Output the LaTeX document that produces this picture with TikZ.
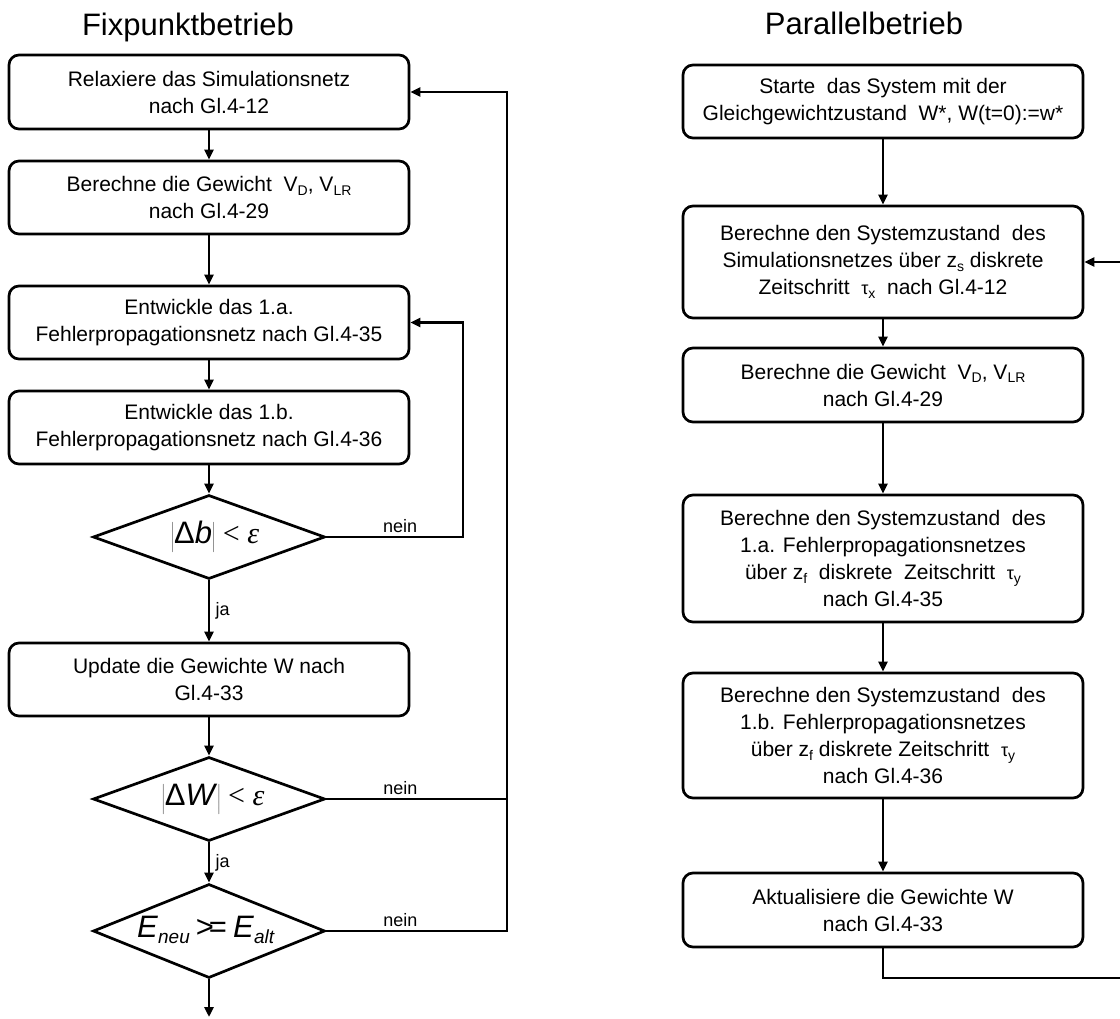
\documentclass[tikz,border=0pt]{standalone}
\usepackage{fontspec}
\setmainfont{Liberation Sans}
\newfontfamily\serifgr{Liberation Serif}
\usetikzlibrary{shapes.geometric,arrows.meta}
\newcommand\sbs[1]{\raisebox{-0.35ex}{\fontsize{14}{14}\selectfont #1}}
\newcommand\sbsbig[1]{\raisebox{-0.4ex}{\fontsize{19}{19}\selectfont #1}}
\newcommand\tauchar{{\fontsize{18}{18}\selectfont τ}}
\newcommand\ltheps{{\serifgr\fontsize{30}{30}\selectfont\ <\ \itshape ε}}
\begin{document}
\begin{tikzpicture}[x=1pt,y=-1pt, line width=2.7pt,
  >={Triangle[length=10pt,width=9pt]},
  box/.style={draw, rounded corners=10pt, minimum width=400pt, align=center, inner sep=0pt, font=\fontsize{21}{27}\selectfont},
  dia/.style={draw, diamond, minimum width=232pt, inner sep=0pt},
  dtext/.style={inner sep=0pt},
  lbl/.style={font=\fontsize{18}{18}\selectfont},
  ttl/.style={font=\fontsize{31}{31}\selectfont}]
\useasboundingbox (0,0) rectangle (1120,1019);

% titles
\node[ttl, anchor=base] (t1) at (188,36) {Fixpunktbetrieb};
\node[ttl, anchor=base] (t2) at (864,35) {Parallelbetrieb};

% left column
\node[box, minimum height=74pt] (b1) at (209,92) {Relaxiere das Simulationsnetz\\nach Gl.4-12};
\node[box, minimum height=73pt] (b2) at (209,197.5) {Berechne die Gewicht \ V\sbs{D}, V\sbs{LR}\\nach Gl.4-29};
\node[box, minimum height=73pt] (b3) at (209,322.5) {Entwickle das 1.a.\\Fehlerpropagationsnetz nach Gl.4-35};
\node[box, minimum height=73pt] (b4) at (209,427.5) {Entwickle das 1.b.\\Fehlerpropagationsnetz nach Gl.4-36};
\node[dia, minimum height=84pt] (d1) at (209,537) {};
\node[dtext] (d1t) at (215,537) {\fontsize{31}{31}\selectfont $\left|\hbox{Δ\textit{b}}\vphantom{Ap}\right|$\ltheps};
\node[box, minimum height=73pt] (b5) at (209,679.5) {Update die Gewichte W nach\\Gl.4-33};
\node[dia, minimum height=84pt] (d2) at (209,799) {};
\node[dtext] (d2t) at (213,799) {\fontsize{31}{31}\selectfont $\left|\hbox{Δ\textit{W}}\vphantom{Ap}\right|$\ltheps};
\node[dia, minimum height=94pt] (d3) at (209,931) {};
\node[dtext] (d3t) at (206,930) {\fontsize{31}{31}\selectfont\textit{E}\sbsbig{\textit{neu}}\kern6pt>\kern-5pt=\kern6pt\textit{E}\sbsbig{\textit{alt}}};
\coordinate (endl) at (209,1017);
\coordinate (c1) at (463,537);
\coordinate (c2) at (507,799);
\coordinate (c3) at (507,931);
\coordinate (c4) at (507,92);

\draw[->] (b1) -- (b2);
\draw[->] (b2) -- (b3);
\draw[->] (b3) -- (b4);
\draw[->] (b4) -- (d1);
\draw[->] (d1) -- node[lbl, right=2pt] {ja} (b5);
\draw[->] (b5) -- (d2);
\draw[->] (d2) -- node[lbl, right=2pt] {ja} (d3);
\draw[->] (d3) -- (endl);
\draw[->] (d1.east) -- node[lbl, above, pos=0.54] {nein} (c1) |- (b3.east);
\draw (d2.east) -- node[lbl, above, pos=0.41] {nein} (c2);
\draw[->] (d3.east) -- node[lbl, above, pos=0.41] {nein} (c3) -- (c4) -- (b1.east);

% right column
\node[box, minimum height=73pt] (r1) at (883,101.5) {Starte \ das System mit der\\Gleichgewichtzustand \ W*, W(t=0):=w*};
\node[box, minimum height=112pt] (r2) at (883,262) {Berechne den Systemzustand \ des\\Simulationsnetzes über z\sbs{s} diskrete\\Zeitschritt \ \tauchar\sbs{x} \ nach Gl.4-12};
\node[box, minimum height=74pt] (r3) at (883,385) {Berechne die Gewicht \ V\sbs{D}, V\sbs{LR}\\nach Gl.4-29};
\node[box, minimum height=127pt] (r4) at (883,558.5) {Berechne den Systemzustand \ des\\1.a. Fehlerpropagationsnetzes\\über z\sbs{f} \ diskrete \ Zeitschritt \ \tauchar\sbs{y}\\nach Gl.4-35};
\node[box, minimum height=125pt] (r5) at (883,735.5) {Berechne den Systemzustand \ des\\1.b. Fehlerpropagationsnetzes\\über z\sbs{f} diskrete Zeitschritt \ \tauchar\sbs{y}\\nach Gl.4-36};
\node[box, minimum height=74pt] (r6) at (883,910) {Aktualisiere die Gewichte W\\nach Gl.4-33};
\coordinate (e1) at (883,978);
\coordinate (e2) at (1125,978);
\coordinate (e3) at (1125,262);

\draw[->] (r1) -- (r2);
\draw[->] (r2) -- (r3);
\draw[->] (r3) -- (r4);
\draw[->] (r4) -- (r5);
\draw[->] (r5) -- (r6);
\draw[->] (r6.south) -- (e1) -- (e2) -- (e3) -- (r2.east);
\end{tikzpicture}
\end{document}
